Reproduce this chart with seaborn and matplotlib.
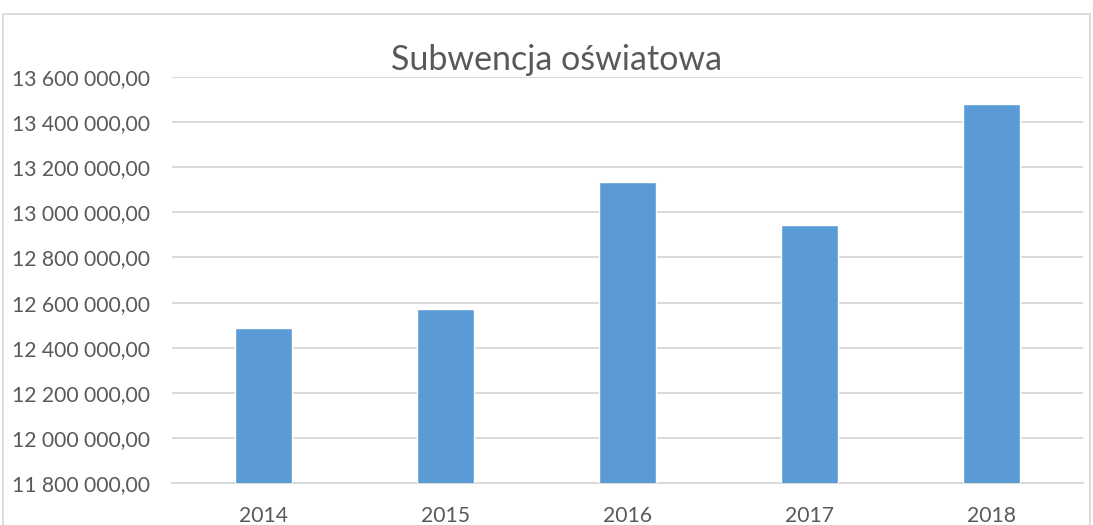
import pandas as pd
import seaborn as sns
import matplotlib.pyplot as plt
from matplotlib.patches import Rectangle
from matplotlib.ticker import FuncFormatter, MultipleLocator

# Data
years = ["2014", "2015", "2016", "2017", "2018"]
subwencja = [12486000, 12571000, 13135000, 12944000, 13480000]

df = pd.DataFrame({"rok": years, "kwota": subwencja})

sns.set_theme(style="white")
plt.rcParams["font.family"] = ["Lato", "DejaVu Sans"]
txt = "#595959"
grid = "#D9D9D9"

fig = plt.figure(figsize=(10.93, 5.25), dpi=100)
ax = fig.add_axes([0.1576, 0.0794, 0.833, 0.7745])

sns.barplot(data=df, x="rok", y="kwota", color="#5B9BD5", saturation=1,
            width=0.313, ax=ax, zorder=3)

ax.set_ylim(11800000, 13600000)
ax.set_xlim(-0.5, 4.5)
ax.yaxis.set_major_locator(MultipleLocator(200000))

def pl_fmt(v, pos):
    return f"{v:,.2f}".replace(",", " ").replace(".", ",")

ax.yaxis.set_major_formatter(FuncFormatter(pl_fmt))
ax.grid(axis="y", color=grid, linewidth=1.4, zorder=0)
ax.set_axisbelow(True)
for s in ["top", "right", "left"]:
    ax.spines[s].set_visible(False)
ax.spines["bottom"].set_color(grid)
ax.spines["bottom"].set_linewidth(1.4)
ax.tick_params(axis="y", length=0, pad=16, labelsize=15.2, labelcolor=txt)
ax.tick_params(axis="x", length=0, pad=16, labelsize=15.2, labelcolor=txt)
ax.set_xlabel("")
ax.set_ylabel("")

fig.text(0.509, 0.885, "Subwencja oświatowa", ha="center", va="center",
         fontsize=24.5, color=txt)

# chart area border
fig.patches.append(Rectangle((3 / 1093, -0.05), 1087 / 1093, 1.05 - 14 / 525,
                             transform=fig.transFigure, fill=False,
                             edgecolor=grid, linewidth=1.3))

fig.savefig("out.png", dpi=100)
